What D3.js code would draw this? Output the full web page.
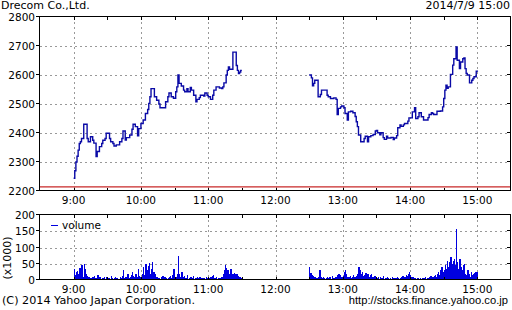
<!DOCTYPE html>
<html>
<head>
<meta charset="utf-8">
<script src="https://cdn.jsdelivr.net/npm/d3@7"></script>
<style>
  body { margin: 0; background: #fff; }
  svg { display: block; }
  text { font-family: "DejaVu Sans", sans-serif; font-size: 10.5px; fill: #000; }
</style>
</head>
<body>
<svg id="chart" width="512" height="310"></svg>
<script>
const title = "Drecom Co.,Ltd.";
const stamp = "2014/7/9 15:00";

// price: minutes after session open, last price
const amMinutes = [0,1,2,3,4,5,6,7,9,12,13,15,17,18,20,21,23,25,26,28,29,32,33,35,36,38,41,43,44,46,47,50,52,53,55,57,58,60,62,64,66,67,68,69,72,74,76,77,80,82,84,85,87,89,91,92,93,94,96,98,99,101,102,104,105,107,109,110,112,113,116,117,119,120,122,124,125,127,130,132,133,134,136,137,138,139,142,144,145,146,147,148,149,150];
const amPrices  = [2244,2270,2300,2320,2341,2364,2370,2381,2430,2381,2370,2387,2375,2365,2319,2336,2353,2364,2375,2381,2399,2381,2370,2364,2355,2359,2370,2381,2407,2376,2384,2393,2413,2430,2422,2390,2415,2433,2445,2467,2481,2502,2525,2553,2525,2513,2500,2487,2487,2508,2525,2538,2525,2520,2542,2559,2600,2571,2562,2548,2542,2553,2542,2557,2548,2530,2508,2516,2522,2530,2527,2538,2530,2525,2516,2530,2548,2559,2555,2553,2559,2573,2600,2616,2628,2620,2679,2679,2633,2616,2605,2610,2616,2616];

const pmMinutes = [0,2,3,4,5,8,10,11,16,17,19,22,24,25,26,28,29,31,32,34,35,37,39,41,42,43,44,46,49,50,52,53,55,57,59,60,61,63,64,66,67,69,70,73,75,76,78,79,81,82,84,85,88,89,92,94,95,97,98,100,102,106,107,109,110,111,114,117,119,120,121,122,123,124,125,126,128,129,131,132,134,135,137,138,139,140,141,143,145,146,147,149,150];
const pmPrices  = [2600,2590,2563,2571,2582,2525,2533,2548,2530,2525,2519,2521,2516,2464,2485,2490,2493,2487,2467,2445,2473,2475,2470,2457,2439,2422,2393,2370,2381,2389,2370,2387,2391,2395,2407,2409,2401,2394,2401,2384,2378,2389,2383,2385,2377,2383,2391,2418,2428,2423,2428,2433,2441,2452,2473,2487,2450,2456,2470,2456,2445,2453,2464,2470,2467,2464,2475,2476,2490,2519,2548,2565,2554,2559,2559,2602,2634,2656,2697,2651,2622,2645,2656,2659,2622,2605,2600,2573,2582,2588,2594,2613,2611];

// volume (x1000) per minute
const amVolume = [35,15,25,28,20,38,12,45,10,50, 35,20,12,8,6,5,10,8,12,5, 6,15,10,8,4,6,5,8,4,10,
  6,5,3,12,6,4,5,10,6,3, 4,8,5,12,30,6,8,5,20,6, 10,15,25,12,8,18,10,35,12,8,
  6,20,40,15,50,30,42,53,20,35, 55,25,18,10,8,5,6,4,8,12, 5,10,6,4,5,8,12,6,15,35,
  10,8,20,73,20,10,25,8,12,6, 5,15,4,6,8,5,12,4,6,5, 8,5,10,4,6,5,7,4,9,5,
  6,4,8,12,15,6,5,8,4,6, 5,8,10,20,30,45,38,30,20,35, 33,18,20,22,20,20,12,10,8,6];
const pmVolume = [40,22,15,12,10,8,6,5,10,30, 8,6,8,5,4,6,10,5,8,4, 12,5,6,10,8,15,20,15,10,8,
  12,25,30,18,10,8,12,6,8,15, 10,8,12,20,40,32,20,25,12,15, 22,10,18,8,15,20,10,8,12,6,
  5,8,4,10,6,5,12,4,6,8, 5,4,6,3,8,5,4,6,10,5, 4,6,8,12,6,10,15,12,20,25,
  15,10,8,5,6,4,5,6,3,5, 4,6,5,8,4,6,5,10,12,8, 10,12,15,8,20,25,15,30,40,25,
  30,45,35,60,40,55,70,50,60,65, 45,157,55,35,65,40,30,45,50,20, 15,30,20,10,25,15,20,22,25,24];

const priceTicks = [2200, 2300, 2400, 2500, 2600, 2700, 2800];
const volumeTicks = [0, 50, 100, 150, 200];
const hourLabels = ["9:00", "10:00", "11:00", "12:00", "13:00", "14:00", "15:00"];
const refPrice = 2214;

const at = (h, m) => new Date(2014, 6, 9, h, m);
const amOpen = at(9, 0), pmOpen = at(12, 30);
const addMin = (d, m) => new Date(d.getTime() + m * 60000);

const svg = d3.select("#chart");

const x = d3.scaleTime().domain([at(8, 30), at(15, 30)]).range([40, 511]);
const y = d3.scaleLinear().domain([2200, 2800]).range([191, 17]);
const yv = d3.scaleLinear().domain([0, 200]).range([280, 215]);

const hours = d3.range(9, 16).map(h => at(h, 0));
const halfHours = d3.range(0, 13).map(i => addMin(at(9, 0), i * 30));

const grid = "#999";

// header
svg.append("text").attr("x", 1).attr("y", 9).style("font-size", "11px").text(title);
svg.append("text").attr("x", 510).attr("y", 9).attr("text-anchor", "end").style("font-size", "11px").text(stamp);

function panel(yScale, top, bottom, ticks) {
  const g = svg.append("g");
  g.selectAll(".vg").data(hours).join("line")
    .attr("x1", d => Math.round(x(d)) + 0.5).attr("x2", d => Math.round(x(d)) + 0.5)
    .attr("y1", top).attr("y2", bottom)
    .attr("stroke", grid).attr("stroke-dasharray", "2,3");
  g.selectAll(".hg").data(ticks.slice(1, -1)).join("line")
    .attr("x1", x.range()[0]).attr("x2", x.range()[1])
    .attr("y1", d => Math.round(yScale(d)) + 0.5).attr("y2", d => Math.round(yScale(d)) + 0.5)
    .attr("stroke", grid).attr("stroke-dasharray", "2,3");
  return g;
}

function frame(yScale, top, bottom, ticks, fmt) {
  const g = svg.append("g").attr("shape-rendering", "crispEdges");
  const [x0, x1] = x.range();
  g.append("rect").attr("x", x0 - 0.5).attr("y", top - 0.5)
    .attr("width", x1 - x0).attr("height", bottom - top)
    .attr("fill", "none").attr("stroke", "#000");
  g.selectAll(".tt").data(halfHours).join("line")
    .attr("x1", d => Math.round(x(d)) + 0.5).attr("x2", d => Math.round(x(d)) + 0.5)
    .attr("y1", top).attr("y2", top + 3).attr("stroke", "#000");
  g.selectAll(".tb").data(halfHours).join("line")
    .attr("x1", d => Math.round(x(d)) + 0.5).attr("x2", d => Math.round(x(d)) + 0.5)
    .attr("y1", bottom - 3).attr("y2", bottom).attr("stroke", "#000");
  g.selectAll(".yl").data(ticks).join("line")
    .attr("x1", x0 - 4).attr("x2", x0)
    .attr("y1", d => Math.round(yScale(d)) - 0.5).attr("y2", d => Math.round(yScale(d)) - 0.5)
    .attr("stroke", "#000");
  g.selectAll(".yr").data(ticks).join("line")
    .attr("x1", x1 - 4).attr("x2", x1)
    .attr("y1", d => Math.round(yScale(d)) - 0.5).attr("y2", d => Math.round(yScale(d)) - 0.5)
    .attr("stroke", "#000");
  svg.append("g").selectAll("text").data(ticks).join("text")
    .attr("x", 35).attr("y", d => yScale(d) + 4)
    .attr("text-anchor", "end").text(fmt);
  svg.append("g").selectAll("text").data(hours).join("text")
    .attr("x", d => x(d)).attr("y", bottom + 12.5)
    .attr("text-anchor", "middle").text((d, i) => hourLabels[i]);
}

// ---- price panel
panel(y, 17, 191, priceTicks);

svg.append("line")
  .attr("x1", x.range()[0]).attr("x2", x.range()[1] - 1)
  .attr("y1", y(refPrice)).attr("y2", y(refPrice))
  .attr("stroke", "#c82828").attr("stroke-width", 1.2);

const priceLine = d3.line()
  .x(d => x(d[0])).y(d => y(d[1]))
  .curve(d3.curveStepAfter);

const amSeries = amMinutes.map((m, i) => [addMin(amOpen, m), amPrices[i]]);
const pmSeries = pmMinutes.map((m, i) => [addMin(pmOpen, m), pmPrices[i]]);

svg.selectAll(".price").data([amSeries, pmSeries]).join("path")
  .attr("d", priceLine)
  .attr("fill", "none").attr("stroke", "#0a0aa6").attr("stroke-width", 1.4);

frame(y, 17, 191, priceTicks, d => d);

// ---- volume panel
panel(yv, 215, 280, volumeTicks);

const bars = amVolume.map((v, i) => [addMin(amOpen, i), v])
  .concat(pmVolume.map((v, i) => [addMin(pmOpen, i), v]));

svg.append("g").attr("shape-rendering", "crispEdges")
  .selectAll("rect").data(bars).join("rect")
  .attr("x", d => x(d[0]))
  .attr("width", d => x(addMin(d[0], 1)) - x(d[0]) + 0.2)
  .attr("y", d => yv(d[1]))
  .attr("height", d => yv(0) - yv(d[1]))
  .attr("fill", "#0000e0");

frame(yv, 215, 280, volumeTicks, d => d);

// legend
svg.append("line").attr("x1", 51).attr("x2", 58).attr("y1", 225.5).attr("y2", 225.5)
  .attr("stroke", "#0000e0").attr("stroke-width", 1);
svg.append("text").attr("x", 62).attr("y", 229).text("volume");

svg.append("text")
  .attr("transform", "translate(11,258) rotate(-90)")
  .attr("text-anchor", "middle").style("font-size", "11px").text("(x1000)");

// footer
svg.append("text").attr("x", 2).attr("y", 304).style("font-size", "11.2px")
  .text("(C) 2014 Yahoo Japan Corporation.");
svg.append("text").attr("x", 508).attr("y", 304).attr("text-anchor", "end")
  .style("font-family", "'Liberation Sans', sans-serif").style("font-size", "11.2px")
  .text("http://stocks.finance.yahoo.co.jp");
</script>
</body>
</html>
